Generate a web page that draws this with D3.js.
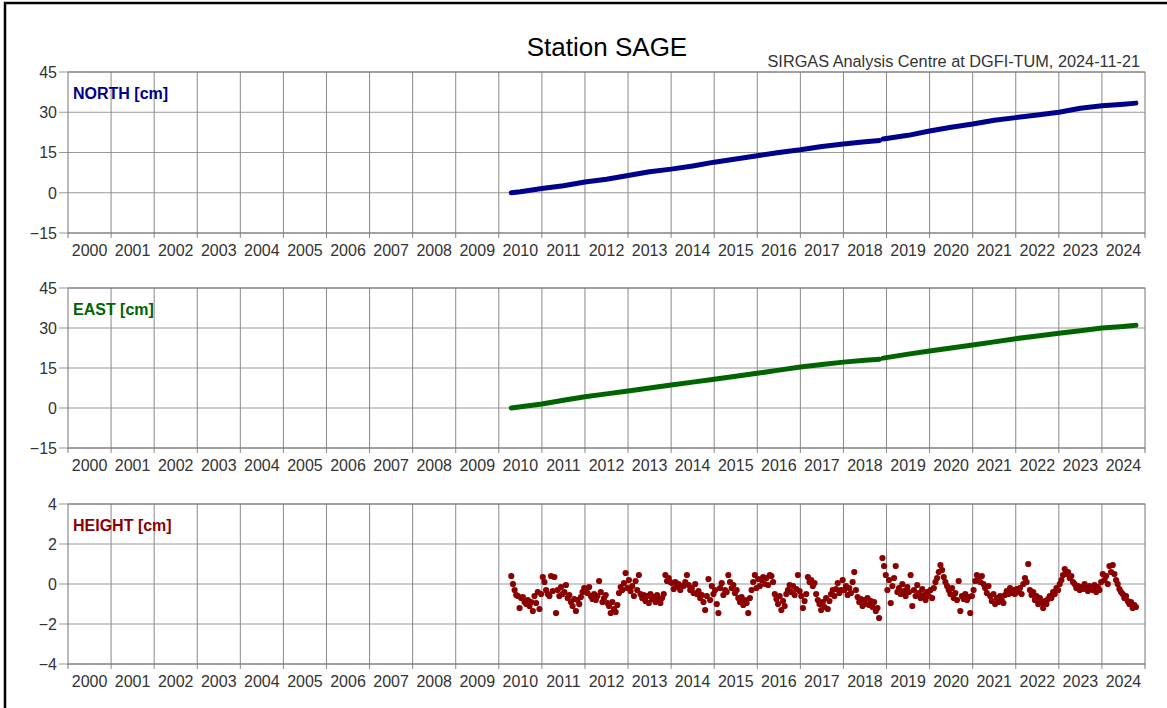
<!DOCTYPE html>
<html>
<head>
<meta charset="utf-8">
<script src="https://cdn.jsdelivr.net/npm/d3@7"></script>
<style>
  body { margin: 0; background: #fff; }
  svg { display: block; font-family: "Liberation Sans", Arial, sans-serif; }
</style>
</head>
<body>
<script>
//year boundaries on the time axis
const years = [2000, 2001, 2002, 2003, 2004, 2005, 2006, 2007, 2008, 2009, 2010, 2011, 2012,
  2013, 2014, 2015, 2016, 2017, 2018, 2019, 2020, 2021, 2022, 2023, 2024];

//y ticks for each component
const horizTicks = [-15, 0, 15, 30, 45];
const heightTicks = [-4, -2, 0, 2, 4];

//north component [cm] (null = gap in the series)
const northYears = [2010.29, 2010.5, 2011.0, 2011.5, 2012.0, 2012.5, 2013.0, 2013.5, 2014.0, 2014.5,
  2015.0, 2015.5, 2016.0, 2016.5, 2017.0, 2017.5, 2018.0, 2018.5, 2018.84, 2018.88, 2018.92,
  2019.5, 2020.0, 2020.5, 2021.0, 2021.5, 2022.0, 2022.5, 2023.0, 2023.5, 2024.0, 2024.5, 2024.79];
const northCm = [0.0, 0.4, 1.6, 2.6, 4.0, 5.0, 6.4, 7.8, 8.8, 10.0,
  11.4, 12.6, 13.8, 15.0, 16.0, 17.2, 18.2, 19.0, 19.5, null, 20.0,
  21.4, 23.0, 24.4, 25.6, 27.0, 28.0, 29.0, 30.0, 31.5, 32.4, 33.0, 33.4];

//east component [cm]
const eastYears = [2010.29, 2011.0, 2011.5, 2012.0, 2012.5, 2013.0, 2013.5, 2014.0, 2014.5, 2015.0,
  2015.5, 2016.0, 2016.5, 2017.0, 2017.5, 2018.0, 2018.5, 2018.84, 2018.88, 2018.92,
  2019.5, 2020.0, 2020.5, 2021.0, 2021.5, 2022.0, 2022.5, 2023.0, 2023.5, 2024.0, 2024.5, 2024.79];
const eastCm = [0.0, 1.5, 2.9, 4.2, 5.3, 6.4, 7.5, 8.6, 9.7, 10.8,
  11.9, 13.0, 14.2, 15.4, 16.3, 17.2, 17.9, 18.3, null, 18.7,
  20.2, 21.4, 22.5, 23.6, 24.8, 26.0, 27.0, 28.0, 29.0, 30.0, 30.6, 31.0];

//height component [cm], two-week solutions starting at heightStart
const heightStart = 2010.29;
const heightStep = 1 / 26;
const heightCm = [
  0.4, 0.0, -0.3, -0.55, -0.6, -1.2, -0.7, -0.65, -0.9, -1.0, -0.8, -1.1, -0.9,
  -1.35, -0.6, -0.95, -0.4, -1.25, -0.5, 0.35, 0.1, -0.3, -0.5, -0.6, 0.4, -0.35,
  0.35, -1.45, -0.3, -0.6, -0.15, -0.5, -0.4, -0.05, -0.7, -0.55, -0.9, -1.1, -0.75,
  -1.35, -0.8, -1.0, -0.65, -0.4, -0.2, -0.3, -0.45, -0.15, -0.6, -0.75, -0.5, -0.8,
  -0.6, 0.15, -0.4, -0.9, -0.7, -0.55, -0.95, -1.1, -1.45, -0.9, -1.25, -1.4, -1.05,
  -0.45, -0.15, -0.3, 0.05, 0.55, -0.2, 0.2, -0.35, -0.1, -0.6, 0.15, -0.3, 0.45,
  -0.5, -0.7, -0.55, -0.85, -0.6, -0.95, -0.5, -0.75, -0.65, -0.9, -0.55, -0.8, -0.95,
  -0.7, -0.5, 0.45, 0.15, 0.3, 0.1, 0.05, -0.25, 0.1, -0.15, 0.0, -0.3, -0.1,
  -0.1, 0.1, 0.45, -0.05, -0.3, -0.2, -0.45, 0.0, -0.5, -0.35, -0.7, -0.55, -0.9,
  -1.3, -0.6, 0.25, -0.8, -0.1, -0.5, -0.3, -1.0, -1.45, -0.2, 0.05, -0.55, -0.3,
  -0.4, 0.45, 0.1, -0.2, -0.05, -0.45, -0.3, -0.7, -0.9, -0.65, -1.05, -0.8, -0.95,
  -1.45, -0.7, -0.3, 0.1, 0.45, -0.2, 0.25, -0.1, 0.2, 0.35, 0.0, 0.3, -0.05,
  0.45, 0.4, 0.1, -0.5, -0.75, -1.0, -0.6, -1.3, -0.85, -1.1, -0.5, -0.3, -0.05,
  -0.4, -0.1, -0.55, -0.25, 0.45, -0.35, -0.6, -1.2, -0.85, -0.5, 0.35, 0.1, 0.2,
  -0.1, 0.05, -0.5, -0.8, -1.0, -1.3, -0.9, -1.15, -0.7, -1.25, -0.85, -0.5, -0.3,
  -0.6, -0.25, 0.05, -0.45, -0.3, 0.2, -0.3, -0.1, -0.55, -0.2, -0.45, 0.1, 0.6,
  -0.3, -0.65, -0.9, -0.75, -1.1, -0.8, -1.0, -0.7, -1.05, -0.85, -1.15, -0.9, -1.35,
  -1.2, -1.7, null, 1.3, 0.9, 0.45, -0.3, 0.2, -0.95, -0.1, 0.3, 0.9, -0.4,
  -0.2, -0.5, 0.0, -0.35, -0.6, -0.15, -0.4, 0.45, -1.1, -0.3, -0.6, -0.05, -0.45,
  -0.7, -0.25, -0.55, -0.8, -0.4, -0.6, -0.3, -0.7, -0.2, 0.1, 0.3, 0.6, 0.95,
  0.7, 0.35, 0.1, -0.1, -0.3, -0.5, -0.2, -0.7, -0.45, -0.8, 0.15, -1.35, -0.6,
  -0.75, -0.5, -0.8, -0.65, -1.45, -0.6, -0.3, 0.15, 0.45, 0.3, 0.1, 0.4, 0.0,
  -0.2, -0.45, -0.1, -0.6, -0.85, -0.5, -1.0, -0.7, -0.9, -0.6, -0.8, -0.95, -0.55,
  -0.35, -0.5, -0.2, -0.45, -0.3, -0.5, -0.25, -0.4, -0.2, -0.5, 0.0, 0.3, 0.1,
  1.0, -0.3, -0.55, -0.4, -0.8, -0.6, -1.0, -0.7, -0.95, -1.2, -0.85, -1.0, -0.75,
  -0.6, -0.7, -0.4, -0.5, -0.2, -0.3, 0.0, 0.2, 0.45, 0.75, 0.5, 0.6, 0.3,
  0.4, 0.1, 0.0, -0.2, -0.1, -0.3, -0.15, -0.25, 0.0, -0.2, -0.35, -0.1, -0.25,
  -0.3, -0.05, -0.4, -0.15, -0.3, 0.1, 0.5, 0.2, 0.4, 0.0, 0.9, 0.6, 0.95,
  0.5, 0.2, 0.0, -0.25, -0.4, -0.5, -0.7, -0.6, -0.85, -1.0, -0.9, -1.2, -1.05,
  -1.15
];

//page size
const width = 1167;
const height = 708;
const left = 68;
const right = 1145;

//panel setup
const panels = [
  { label: "NORTH [cm]", color: "#00008b", top: 72, bottom: 233, domain: [-15, 45], ticks: horizTicks,
    points: northYears.map((t, i) => [t, northCm[i]]), kind: "band" },
  { label: "EAST [cm]", color: "#006400", top: 288, bottom: 448, domain: [-15, 45], ticks: horizTicks,
    points: eastYears.map((t, i) => [t, eastCm[i]]), kind: "band" },
  { label: "HEIGHT [cm]", color: "#8b0000", top: 504, bottom: 664, domain: [-4, 4], ticks: heightTicks,
    points: heightCm.map((v, i) => [heightStart + i * heightStep, v]), kind: "dots" }
];

const svg = d3.select("body").append("svg")
  .attr("width", width)
  .attr("height", height);

svg.append("rect")
  .attr("width", width)
  .attr("height", height)
  .attr("fill", "#fff");

//outer frame
svg.append("rect")
  .attr("x", 5)
  .attr("y", 3)
  .attr("width", width + 20)
  .attr("height", height + 20)
  .attr("fill", "none")
  .attr("stroke", "#000")
  .attr("stroke-width", 2.5);

//titles
svg.append("text")
  .text("Station SAGE")
  .attr("x", 607)
  .attr("y", 56)
  .attr("text-anchor", "middle")
  .attr("font-size", 26)
  .attr("fill", "#000");

svg.append("text")
  .text("SIRGAS Analysis Centre at DGFI-TUM, 2024-11-21")
  .attr("x", 1140)
  .attr("y", 67)
  .attr("text-anchor", "end")
  .attr("font-size", 16.3)
  .attr("fill", "#333");

const x = d3.scaleLinear().domain([2000, 2025]).range([left, right]);

panels.forEach((p) => {
  const y = d3.scaleLinear().domain(p.domain).range([p.bottom, p.top]);
  const g = svg.append("g");

  //horizontal grid
  g.selectAll(".hgrid")
    .data(p.ticks)
    .join("line")
    .attr("x1", left - 9)
    .attr("x2", right)
    .attr("y1", (d) => y(d))
    .attr("y2", (d) => y(d))
    .attr("stroke", "#999")
    .attr("stroke-width", 1);

  //vertical grid, one line per year
  g.selectAll(".vgrid")
    .data(years.slice(1))
    .join("line")
    .attr("x1", (d) => x(d))
    .attr("x2", (d) => x(d))
    .attr("y1", p.top)
    .attr("y2", p.bottom + 5)
    .attr("stroke", "#888")
    .attr("stroke-width", 1);

  //frame
  g.append("rect")
    .attr("x", left)
    .attr("y", p.top)
    .attr("width", right - left)
    .attr("height", p.bottom - p.top)
    .attr("fill", "none")
    .attr("stroke", "#777")
    .attr("stroke-width", 1);

  //end ticks of the time axis
  g.selectAll(".endtick")
    .data([2000, 2025])
    .join("line")
    .attr("x1", (d) => x(d))
    .attr("x2", (d) => x(d))
    .attr("y1", p.bottom)
    .attr("y2", p.bottom + 5)
    .attr("stroke", "#777");

  //y labels
  g.selectAll(".ylab")
    .data(p.ticks)
    .join("text")
    .text((d) => d3.format("d")(d))
    .attr("x", left - 11)
    .attr("y", (d) => y(d))
    .attr("dy", "0.36em")
    .attr("text-anchor", "end")
    .attr("font-size", 16)
    .attr("fill", "#333");

  //year labels, centred in each year
  g.selectAll(".xlab")
    .data(years)
    .join("text")
    .text((d) => d)
    .attr("x", (d) => x(d + 0.5))
    .attr("y", p.bottom + 23)
    .attr("text-anchor", "middle")
    .attr("font-size", 16)
    .attr("fill", "#333");

  //component label
  g.append("text")
    .text(p.label)
    .attr("x", 73)
    .attr("y", p.top + 27)
    .attr("font-size", 16)
    .attr("font-weight", "bold")
    .attr("fill", p.color);

  //data
  if (p.kind === "band") {
    const line = d3.line()
      .defined((d) => d[1] !== null)
      .x((d) => x(d[0]))
      .y((d) => y(d[1]));
    g.append("path")
      .datum(p.points)
      .attr("d", line)
      .attr("fill", "none")
      .attr("stroke", p.color)
      .attr("stroke-width", 5)
      .attr("stroke-linecap", "round")
      .attr("stroke-linejoin", "round");
  } else {
    g.selectAll(".dot")
      .data(p.points.filter((d) => d[1] !== null))
      .join("circle")
      .attr("cx", (d) => x(d[0]))
      .attr("cy", (d) => y(d[1]))
      .attr("r", 3.1)
      .attr("fill", p.color);
  }
});
</script>
</body>
</html>
